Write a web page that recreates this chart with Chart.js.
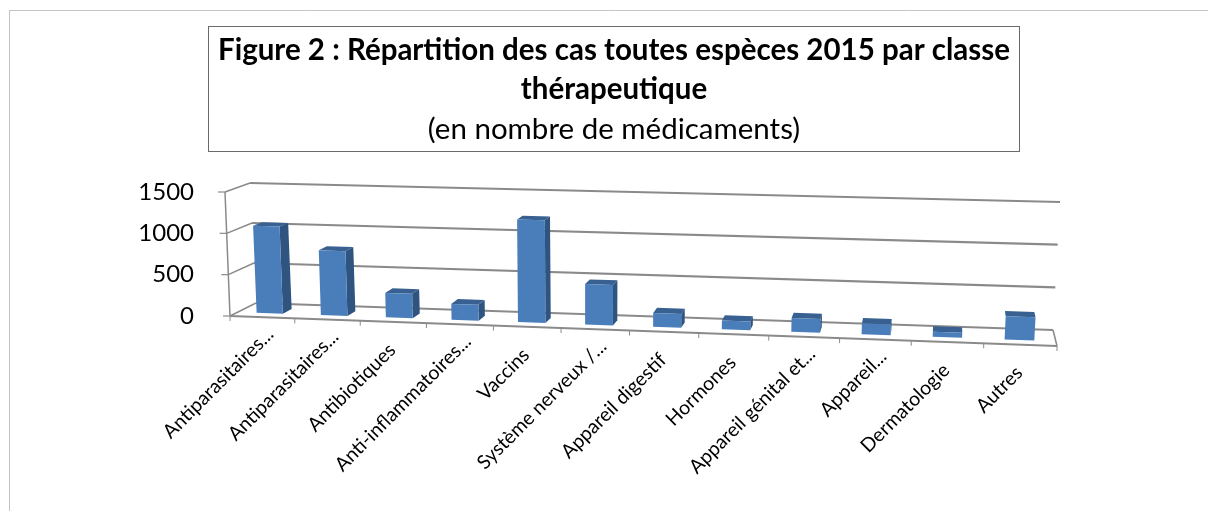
<!DOCTYPE html>
<html lang="fr">
<head>
<meta charset="utf-8">
<style>
  html, body { margin: 0; padding: 0; background: #fff; }
  canvas { display: block; }
</style>
<script src="https://cdn.jsdelivr.net/npm/chart.js@4"></script>
</head>
<body>
<canvas id="graphique" width="1208" height="511"></canvas>
<script>
const categories = [
  "Antiparasitaires...", "Antiparasitaires...", "Antibiotiques", "Anti-inflammatoires...",
  "Vaccins", "Système nerveux /...", "Appareil digestif", "Hormones",
  "Appareil génital et...", "Appareil...", "Dermatologie", "Autres"
];
const cas = [1060, 785, 295, 190, 1225, 480, 165, 105, 162, 127, 58, 265];
const titre = ["Figure 2 : Répartition des cas toutes espèces 2015 par classe", "thérapeutique"];
const sousTitre = "(en nombre de médicaments)";

const police = "Lato";
const couleurGrille = "#8a8a8a";

// coins de la boite 3D (avant/arriere, bas/haut, gauche/droite)
const avantBasG = [230, 316], avantBasD = [1057, 346];
const avantHautG = [225, 192], avantHautD = [1064, 214];
const fondBasG = [256, 303], fondBasD = [1053, 330];
const fondHautG = [250, 183], fondHautD = [1060, 202];

const profAvant = 0.3, profFond = 0.66;
const fuite = 1.07; // les categories s'elargissent vers la droite

function mix(a, b, t) {
  return [a[0] + (b[0] - a[0]) * t, a[1] + (b[1] - a[1]) * t];
}

// u : gauche-droite, v : bas-haut, d : avant-fond
function projeter(u, v, d) {
  const up = u / (u + (1 - u) * fuite);
  const avant = mix(mix(avantBasG, avantBasD, up), mix(avantHautG, avantHautD, up), v);
  const fond = mix(mix(fondBasG, fondBasD, up), mix(fondHautG, fondHautD, up), v);
  return mix(avant, fond, d);
}

function ligne(ctx, a, b, couleur, largeur) {
  ctx.strokeStyle = couleur;
  ctx.lineWidth = largeur;
  ctx.beginPath();
  ctx.moveTo(a[0], a[1]);
  ctx.lineTo(b[0], b[1]);
  ctx.stroke();
}

function face(ctx, points, couleur) {
  ctx.fillStyle = couleur;
  ctx.beginPath();
  points.forEach((p, i) => i ? ctx.lineTo(p[0], p[1]) : ctx.moveTo(p[0], p[1]));
  ctx.closePath();
  ctx.fill();
}

const cadre = {
  id: "cadre",
  beforeDraw(chart) {
    const ctx = chart.ctx;
    ligne(ctx, [9.5, 10.5], [1208, 10.5], "#c4c4c4", 1);
    ligne(ctx, [9.5, 10], [9.5, 511], "#c4c4c4", 1);
    ctx.strokeStyle = "#6a6a6a";
    ctx.lineWidth = 1;
    ctx.strokeRect(208.5, 26.5, 811, 125);
  }
};

const boite3d = {
  id: "boite3d",
  beforeDatasetsDraw(chart) {
    const ctx = chart.ctx, area = chart.chartArea, y = chart.scales.y;
    const fracV = val => (area.bottom - y.getPixelForValue(val)) / (area.bottom - area.top);

    y.ticks.forEach(t => {
      const v = fracV(t.value);
      ligne(ctx, projeter(0, v, 1), projeter(1, v, 1), couleurGrille, 2.2);
      ligne(ctx, projeter(0, v, 0), projeter(0, v, 1), couleurGrille, 1.5);
      const p = projeter(0, v, 0);
      ligne(ctx, [p[0] - 7, p[1]], p, couleurGrille, 1.2);
    });
    ligne(ctx, projeter(0, 0, 0), projeter(0, 1, 0), couleurGrille, 1.5);
    ligne(ctx, projeter(0, 0, 0), projeter(1, 0, 0), couleurGrille, 2.2);
    ligne(ctx, projeter(1, 0, 0), projeter(1, 0, 1), couleurGrille, 1.5);

    categories.forEach((c, i) => {
      const p = projeter(i / categories.length, 0, 0);
      ligne(ctx, p, [p[0], p[1] + 5], couleurGrille, 1);
    });
    const fin = projeter(1, 0, 0);
    ligne(ctx, fin, [fin[0], fin[1] + 5], couleurGrille, 1);
  },
  afterDatasetsDraw(chart) {
    const ctx = chart.ctx, area = chart.chartArea, x = chart.scales.x;
    const w = area.right - area.left, h = area.bottom - area.top;

    chart.getDatasetMeta(0).data.forEach(bar => {
      const u1 = (bar.x - bar.width / 2 - area.left) / w;
      const u2 = (bar.x + bar.width / 2 - area.left) / w;
      const v = (area.bottom - bar.y) / h;
      const a = (u, vv) => projeter(u, vv, profAvant);
      const b = (u, vv) => projeter(u, vv, profFond);

      // cote visible : a droite sauf si la perspective le cache
      if (b(u2, v)[0] > a(u2, v)[0]) {
        face(ctx, [a(u2, 0), b(u2, 0), b(u2, v), a(u2, v)], "#2f5480");
      }
      face(ctx, [a(u1, v), a(u2, v), b(u2, v), b(u1, v)], "#386090");
      face(ctx, [a(u1, 0), a(u2, 0), a(u2, v), a(u1, v)], "#4a7ebb");
    });

    // etiquettes de categories, le long de l'arete avant
    ctx.save();
    ctx.font = "19.5px " + police;
    ctx.fillStyle = "#000";
    ctx.textAlign = "right";
    ctx.textBaseline = "middle";
    categories.forEach((c, i) => {
      const p = projeter((x.getPixelForTick(i) - area.left) / w, 0, 0);
      const coupe = x.getLabelForValue(i).endsWith("...");
      ctx.save();
      ctx.translate(p[0] + (coupe ? 8 : -1), p[1] + (coupe ? 14 : 25));
      ctx.rotate(-Math.PI / 4);
      ctx.fillText(x.getLabelForValue(i), 0, 0);
      ctx.restore();
    });
    ctx.restore();
  }
};

new Chart(document.getElementById("graphique"), {
  type: "bar",
  data: {
    labels: categories,
    datasets: [{
      label: "Cas",
      data: cas,
      backgroundColor: "rgba(0,0,0,0)",
      barPercentage: 0.41,
      categoryPercentage: 1
    }]
  },
  options: {
    responsive: false,
    animation: false,
    // chartArea.left = 130 + 100 ; le titre reste centre sur le cadre
    layout: { padding: { left: 130, right: 110, top: 26, bottom: 195 } },
    plugins: {
      legend: { display: false },
      tooltip: { enabled: false },
      title: {
        display: true,
        text: titre,
        color: "#000",
        font: { family: police, size: 29.5, weight: "bold", lineHeight: 38.5 / 29.5 },
        padding: { top: 5.5, bottom: 0 }
      },
      subtitle: {
        display: true,
        text: sousTitre,
        color: "#000",
        font: { family: police, size: 29.5, weight: "normal", lineHeight: 38 / 29.5 },
        padding: { top: 1.5, bottom: 44 }
      }
    },
    scales: {
      x: {
        afterFit(scale) {
          scale.height = 0;
        },
        ticks: { display: false },
        grid: { display: false },
        border: { display: false }
      },
      y: {
        min: 0,
        max: 1500,
        afterFit(scale) {
          scale.width = 100;
          scale.paddingTop = 0;
          scale.paddingBottom = 0;
        },
        ticks: {
          stepSize: 500,
          padding: 28,
          color: "#000",
          font: { family: police, size: 24 },
          callback: value => String(value)
        },
        grid: { display: false },
        border: { display: false }
      }
    }
  },
  plugins: [cadre, boite3d]
});
</script>
</body>
</html>
